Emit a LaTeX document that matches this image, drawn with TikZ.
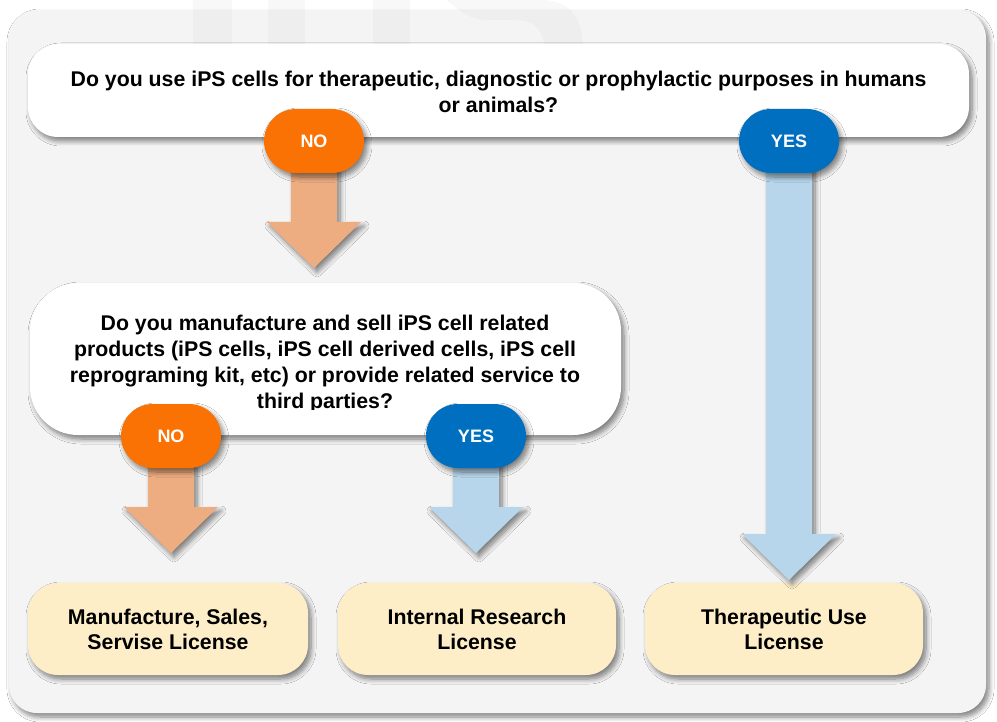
\documentclass[tikz,border=0pt]{standalone}
\usepackage{fontspec}
\setmainfont{Liberation Sans}
\usetikzlibrary{calc,shadows.blur}

\definecolor{panelgray}{RGB}{244,244,244}
\definecolor{noorange}{RGB}{250,114,4}
\definecolor{yesblue}{RGB}{0,111,192}
\definecolor{noarrow}{RGB}{237,173,128}
\definecolor{yesarrow}{RGB}{183,214,235}
\definecolor{licfill}{RGB}{253,238,200}

\tikzset{
  softshadow/.style={blur shadow={shadow xshift=3pt,shadow yshift=-4pt,
      shadow blur radius=5pt,shadow blur steps=8,shadow opacity=50}},
  question/.style={fill=white,inner sep=0pt,softshadow},
  qtext/.style={align=center,inner sep=0pt,
      font=\bfseries\fontsize{21.3}{25.5}\selectfont},
  answer/.style={rounded corners=32pt,minimum width=100pt,minimum height=64pt,
      inner sep=0pt,text=white,font=\bfseries\fontsize{18}{20}\selectfont,softshadow},
  nobtn/.style={answer,fill=noorange},
  yesbtn/.style={answer,fill=yesblue},
  license/.style={fill=licfill,rounded corners=30pt,minimum width=279pt,
      minimum height=92pt,inner sep=0pt,align=center,softshadow,
      font=\bfseries\fontsize{21.3}{25}\selectfont},
  watermark/.style={fill=gray,opacity=0.05},
}

% block arrow from the centre of #1 down to the tip #2, filled with #3
\newcommand\fatarrow[3]{%
  \fill[#3,softshadow] let \p1=(#1), \p2=(#2) in
    (\x1-23pt,\y1) -- (\x1+23pt,\y1) -- (\x1+23pt,\y2+46pt)
    -- (\x1+47pt,\y2+46pt) -- (\x1,\y2) -- (\x1-47pt,\y2+46pt)
    -- (\x1-23pt,\y2+46pt) -- cycle;}

\begin{document}
\begin{tikzpicture}[x=1pt,y=-1pt]
\useasboundingbox[fill=white] (0,0) rectangle (997,722);

% background panel
\node[fill=panelgray,rounded corners=28pt,minimum width=977pt,
      minimum height=703pt,inner sep=0pt,softshadow] (panel) at (497.5,361.5) {};

% faint lettering behind the top of the chart
\fill[watermark] (193,0) rectangle (232,100);
\fill[watermark] (268,0) rectangle (305,100);
\fill[watermark] (373,0) rectangle (410,100);
\fill[watermark] (447,0) -- (540,0) .. controls (572,0) and (583,20) .. (583,50)
  -- (583,100) -- (545,100) -- (545,55) .. controls (545,30) and (535,20) .. (515,20)
  -- (490,20) .. controls (470,20) and (460,12) .. (447,0) -- cycle;

% questions
\node[question,rounded corners=30pt,minimum width=941pt,minimum height=93pt]
  (q1) at (498.5,90.5) {};
\node[qtext] (q1t) at (498.5,92) {Do you use iPS cells for therapeutic, diagnostic or prophylactic purposes in humans\\or animals?};

\node[question,rounded corners=48pt,minimum width=591pt,minimum height=152pt]
  (q2) at (325.5,359) {};
\begin{scope}
  \clip (30,283) rectangle (622,409);
  \node[qtext,font=\bfseries\fontsize{21.3}{26.3}\selectfont] (q2t) at (325,364)
    {Do you manufacture and sell iPS cell related\\products (iPS cells, iPS cell derived cells, iPS cell\\reprograming kit, etc) or provide related service to\\third parties?};
\end{scope}

% licences
\node[license,minimum width=280pt] (lic1) at (168,629) {Manufacture, Sales,\\Servise License};
\node[license,minimum width=278pt] (lic2) at (477,629) {Internal Research\\License};
\node[license,minimum width=278pt] (lic3) at (784,629) {Therapeutic Use\\License};

% answer button centres (buttons are drawn after the arrows)
\coordinate (no1c) at (314,141);
\coordinate (yes1c) at (789,141);
\coordinate (no2c) at (171,436);
\coordinate (yes2c) at (476,436);

% arrow tips
\coordinate (tipq2) at (314,268);
\coordinate (tiplic1) at (171,553);
\coordinate (tiplic2) at (476,553);
\coordinate (tiplic3) at (789,580);

\fatarrow{no1c}{tipq2}{noarrow}
\fatarrow{yes1c}{tiplic3}{yesarrow}
\fatarrow{no2c}{tiplic1}{noarrow}
\fatarrow{yes2c}{tiplic2}{yesarrow}

\node[nobtn] (no1) at (no1c) {NO};
\node[yesbtn] (yes1) at (yes1c) {YES};
\node[nobtn] (no2) at (no2c) {NO};
\node[yesbtn] (yes2) at (yes2c) {YES};
\end{tikzpicture}
\end{document}
